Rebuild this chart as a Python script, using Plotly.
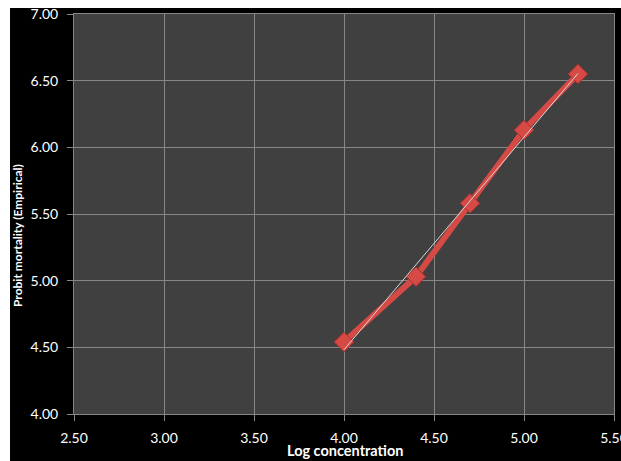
import numpy as np
import plotly.graph_objects as go

# Probit analysis: log concentration vs empirical probit mortality
log_conc = [4.00, 4.40, 4.70, 5.00, 5.30]
probit = [4.54, 5.03, 5.58, 6.13, 6.55]

x_ticks = [2.5, 3.0, 3.5, 4.0, 4.5, 5.0, 5.5]
y_ticks = [4.0, 4.5, 5.0, 5.5, 6.0, 6.5, 7.0]

# Linear trendline through the observed points
slope, intercept = np.polyfit(log_conc, probit, 1)
trend_x = [min(log_conc), max(log_conc)]
trend_y = [slope * v + intercept for v in trend_x]

FONT = "Lato"
RED = "rgb(214,74,70)"
GRID = "rgb(135,135,135)"

fig = go.Figure()
fig.add_trace(go.Scatter(
    x=log_conc, y=probit, mode="lines+markers",
    line=dict(color=RED, width=6),
    marker=dict(symbol="diamond", size=15, color=RED,
                line=dict(color="rgb(170,45,45)", width=1)),
    hoverinfo="x+y", showlegend=False,
))
fig.add_trace(go.Scatter(
    x=trend_x, y=trend_y, mode="lines",
    line=dict(color="rgb(215,215,215)", width=1),
    hoverinfo="skip", showlegend=False,
))

axis_common = dict(
    showgrid=True, gridcolor=GRID, gridwidth=1,
    showline=True, mirror=True, linecolor=GRID, linewidth=1,
    ticks="outside", ticklen=6, tickcolor=GRID,
    tickformat=".2f", zeroline=False, automargin=False,
    ticklabeloverflow="allow",
    tickfont=dict(family=FONT, size=14, color="white"),
)

fig.update_xaxes(range=[2.5, 5.5], tickvals=x_ticks, ticklabelstandoff=5, **axis_common)
fig.update_yaxes(range=[4.0, 7.0], tickvals=y_ticks, ticklabelstandoff=6, **axis_common)

fig.update_layout(
    width=621, height=461,
    margin=dict(l=74, r=7, t=14, b=47),
    paper_bgcolor="black",
    plot_bgcolor="rgb(64,64,64)",
    annotations=[
        dict(text="<b>Log concentration</b>", x=0.502, y=-0.092,
             xref="paper", yref="paper", showarrow=False,
             xanchor="center", yanchor="middle",
             font=dict(family=FONT, size=14.5, color="white")),
        dict(text="<b>Probit mortality (Empirical)</b>", x=-0.1037, y=0.445,
             xref="paper", yref="paper", showarrow=False, textangle=-90,
             xanchor="center", yanchor="middle",
             font=dict(family=FONT, size=12, color="white")),
    ],
    shapes=[
        # white strips along the top and left edges
        dict(type="rect", xref="paper", yref="paper", layer="above",
             x0=-0.2, x1=1.1, y0=1.015, y1=1.1,
             fillcolor="white", line=dict(width=0)),
        dict(type="rect", xref="paper", yref="paper", layer="above",
             x0=-0.2, x1=-0.1185, y0=-0.2, y1=1.1,
             fillcolor="white", line=dict(width=0)),
    ],
)

fig.write_html("out.html")
